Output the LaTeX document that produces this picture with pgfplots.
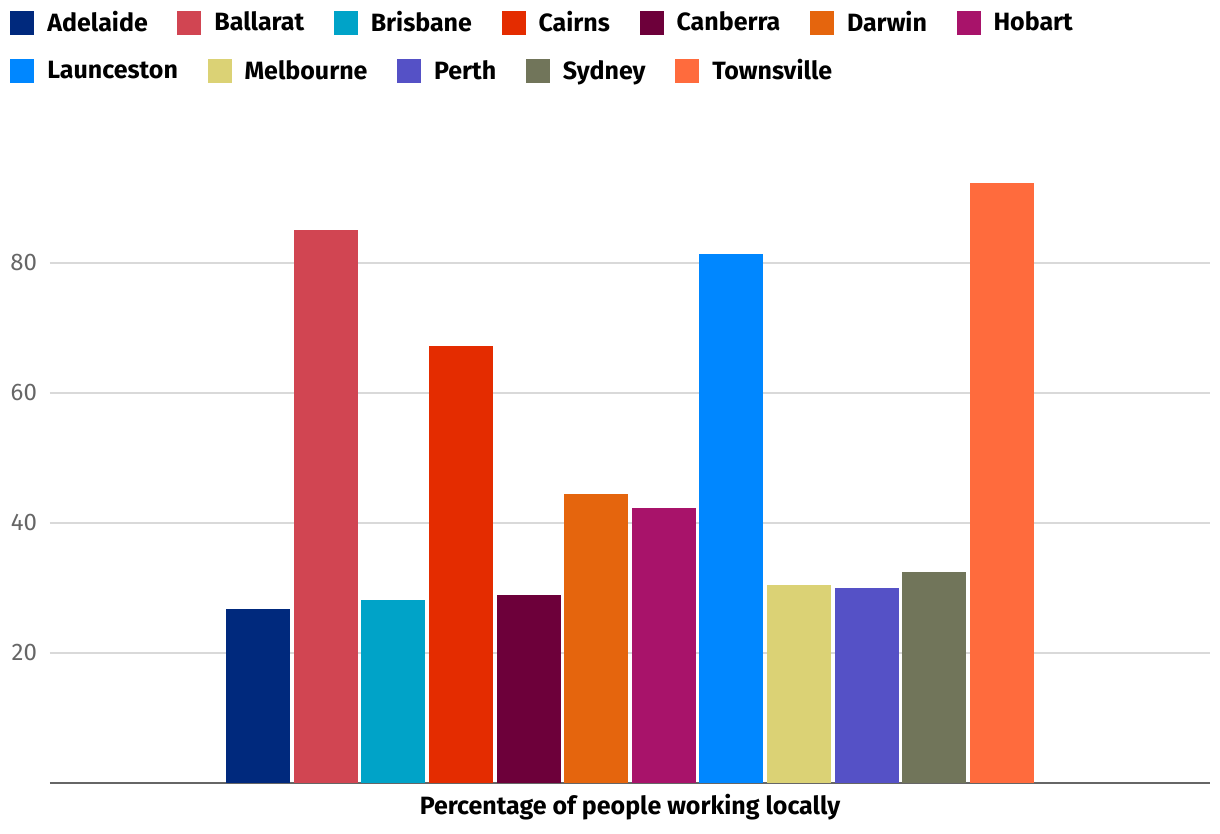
\documentclass[border=0pt]{standalone}
\usepackage{pgfplots}
\pgfplotsset{compat=1.18}
\usepackage{fontspec}
\setmainfont{Fira Sans}
\definecolor{cAde}{HTML}{00297D}
\definecolor{cBal}{HTML}{D14552}
\definecolor{cBri}{HTML}{00A3C8}
\definecolor{cCai}{HTML}{E42C00}
\definecolor{cCan}{HTML}{6D003A}
\definecolor{cDar}{HTML}{E5650D}
\definecolor{cHob}{HTML}{A8136A}
\definecolor{cLau}{HTML}{0087FF}
\definecolor{cMel}{HTML}{DBD275}
\definecolor{cPer}{HTML}{5551C6}
\definecolor{cSyd}{HTML}{71755A}
\definecolor{cTow}{HTML}{FF6B3D}
\definecolor{gridc}{HTML}{D9D9D9}
\definecolor{tickc}{HTML}{666666}
\pgfplotsset{
  sq/.style={fill=#1, draw=none,
    legend image code/.code={\fill (0pt,-6pt) rectangle (12pt,6pt);}},
  bb/.style={ybar, bar shift=0pt, bar width=0.946, sq=#1},
  mylegend/.style={
    legend style={draw=none, fill=none, inner sep=0pt, anchor=west,
      font=\bfseries\fontsize{12.5}{14}\selectfont,
      /tikz/every even column/.append style={column sep=12.8pt},
      /tikz/every odd column/.append style={column sep=4.5pt}},
    legend cell align=left},
}
\begin{document}
\begin{tikzpicture}
\path[use as bounding box] (-25pt,-25.5pt) rectangle (585pt,391.5pt);
\begin{axis}[name=main, at={(0,0)}, anchor=south west,
  scale only axis, width=580pt, height=325pt,
  xmin=-3.075, xmax=14.075, ymin=0, ymax=100,
  xtick=\empty, ytick={20,40,60,80},
  ymajorgrids, grid style={gridc, line width=1pt},
  axis x line*=bottom, axis y line*=left,
  x axis line style={-, draw=tickc, line width=1pt},
  y axis line style={draw=none},
  major tick length=0pt,
  /pgf/number format/assume math mode=true,
  yticklabel style={font=\fontsize{12}{14}\selectfont, text=tickc, anchor=east, xshift=-3pt},
  xlabel={Percentage of people working locally},
  xlabel style={font=\bfseries\fontsize{12.5}{14}\selectfont, at={(axis description cs:0.5,0)}, anchor=north, yshift=-2pt},
  mylegend, legend columns=7,
  legend style={at={(-0.03448,1.1693)}},
]
\addplot[bb=cAde] coordinates {(0,26.8)}; \addlegendentry{Adelaide}
\addplot[bb=cBal] coordinates {(1,85.1)}; \addlegendentry{Ballarat}
\addplot[bb=cBri] coordinates {(2,28.2)}; \addlegendentry{Brisbane}
\addplot[bb=cCai] coordinates {(3,67.2)}; \addlegendentry{Cairns}
\addplot[bb=cCan] coordinates {(4,28.9)}; \addlegendentry{Canberra}
\addplot[bb=cDar] coordinates {(5,44.5)}; \addlegendentry{Darwin}
\addplot[bb=cHob] coordinates {(6,42.3)}; \addlegendentry{Hobart}
\addplot[bb=cLau, forget plot] coordinates {(7,81.4)};
\addplot[bb=cMel, forget plot] coordinates {(8,30.5)};
\addplot[bb=cPer, forget plot] coordinates {(9,30.0)};
\addplot[bb=cSyd, forget plot] coordinates {(10,32.5)};
\addplot[bb=cTow, forget plot] coordinates {(11,92.3)};
\end{axis}
\begin{axis}[at={(0,0)}, anchor=south west,
  scale only axis, width=580pt, height=325pt,
  xmin=0, xmax=1, ymin=0, ymax=1, hide axis,
  mylegend, legend columns=5,
  legend style={at={(-0.03448,1.0953)}},
]
\addlegendimage{sq=cLau} \addlegendentry{Launceston}
\addlegendimage{sq=cMel} \addlegendentry{Melbourne}
\addlegendimage{sq=cPer} \addlegendentry{Perth}
\addlegendimage{sq=cSyd} \addlegendentry{Sydney}
\addlegendimage{sq=cTow} \addlegendentry{Townsville}
\end{axis}
\end{tikzpicture}
\end{document}
